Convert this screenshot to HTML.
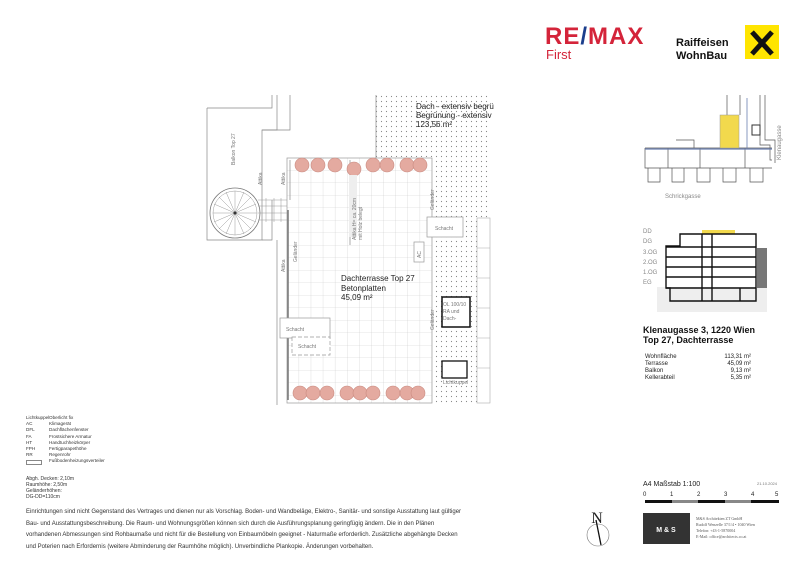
<!DOCTYPE html>
<html><head><meta charset="utf-8"><style>
html,body{margin:0;padding:0;background:#fff;}
body{width:800px;height:565px;overflow:hidden;position:relative;font-family:"Liberation Sans",sans-serif;}
.t{position:absolute;color:#333;white-space:nowrap;}
</style></head><body>
<svg width="800" height="565" style="position:absolute;left:0;top:0" xmlns="http://www.w3.org/2000/svg" font-family="Liberation Sans, sans-serif">
<defs>
<pattern id="dots" width="5" height="5" patternUnits="userSpaceOnUse"><circle cx="1.5" cy="1.5" r="0.6" fill="#888"/></pattern>
<pattern id="grid" x="287" y="158" width="12.1" height="12.5" patternUnits="userSpaceOnUse"><path d="M12.1 0V12.5M0 12.5H12.1" stroke="#ccc" stroke-width="0.6" fill="none"/></pattern>
</defs>
<path d="M376 95H490V405H432V157H376Z" fill="url(#dots)"/>
<rect x="287" y="158" width="145" height="245" fill="url(#grid)" stroke="#999" stroke-width="0.7"/>
<g stroke="#888" stroke-width="0.7" fill="none">
<path d="M207 108H272V95"/><path d="M207 108V240H262V130H277V95"/>
<path d="M262 130H290V95"/>
<path d="M272 200V240H262"/>
<path d="M290 200V160"/>
<path d="M288 210V400" stroke="#777" stroke-width="1.5"/>
<path d="M277 240V405"/>
<path d="M350 160V245"/>
<path d="M376 95V158"/>
</g>
<circle cx="235" cy="213" r="25" fill="none" stroke="#777" stroke-width="0.8"/>
<circle cx="235" cy="213" r="22" fill="none" stroke="#999" stroke-width="0.5"/>
<g stroke="#999" stroke-width="0.5">
<path d="M235 191V235M213 213H257M219 197L251 229M251 197L219 229M226 192L244 234M244 192L226 234M214 204L256 222M256 204L214 222"/>
<path d="M258 200H287M258 206H287M258 213H287M258 220H287M266 198V222M274 198V222M281 198V222"/>
</g>
<circle cx="235" cy="213" r="1.5" fill="#333"/>
<g fill="#e4aaa0" stroke="#c98a80" stroke-width="0.6">
<circle cx="302" cy="165" r="7"/><circle cx="318" cy="165" r="7"/><circle cx="335" cy="165" r="7"/><circle cx="354" cy="169" r="7"/><circle cx="373" cy="165" r="7"/><circle cx="387" cy="165" r="7"/><circle cx="407" cy="165" r="7"/><circle cx="420" cy="165" r="7"/>
<circle cx="300" cy="393" r="7"/><circle cx="313" cy="393" r="7"/><circle cx="327" cy="393" r="7"/><circle cx="347" cy="393" r="7"/><circle cx="360" cy="393" r="7"/><circle cx="373" cy="393" r="7"/><circle cx="393" cy="393" r="7"/><circle cx="407" cy="393" r="7"/><circle cx="418" cy="393" r="7"/>
</g>
<rect x="349" y="175" width="8" height="62" fill="#eee" stroke="none"/>
<g stroke="#aaa" stroke-width="0.6" fill="#fff">
<rect x="477" y="218" width="13" height="185"/>
<path d="M477 248H490M477 278H490M477 308H490M477 338H490M477 368H490"/>
</g>
<g fill="#fff" stroke="#999" stroke-width="0.7">
<rect x="427" y="217" width="36" height="20"/>
<rect x="414" y="242" width="10" height="20"/>
<rect x="280" y="318" width="50" height="20"/>
<rect x="292" y="337" width="38" height="18" stroke-dasharray="4,2"/>
</g>
<rect x="442" y="297" width="28" height="30" fill="#fff" stroke="#111" stroke-width="1.5"/>
<rect x="442" y="361" width="25" height="17" fill="#fff" stroke="#111" stroke-width="1.3"/>
<g font-size="5" fill="#777">
<text x="435" y="230">Schacht</text><text x="286" y="331">Schacht</text><text x="298" y="348">Schacht</text>
<text x="443" y="306">OL 100/10</text><text x="443" y="313">RA und</text><text x="443" y="320">Dach-</text>
<text x="443" y="384">Lichtkuppel</text>
<text transform="translate(421,258) rotate(-90)">AC</text>
<text transform="translate(262,185) rotate(-90)">Attika</text>
<text transform="translate(285,185) rotate(-90)">Attika</text>
<text transform="translate(285,272) rotate(-90)">Attika</text>
<text transform="translate(297,262) rotate(-90)">Geländer</text>
<text transform="translate(434,210) rotate(-90)">Geländer</text>
<text transform="translate(434,330) rotate(-90)">Geländer</text>
<text transform="translate(356,240) rotate(-90)">Attika H= ca. 20cm</text>
<text transform="translate(362,240) rotate(-90)">mit Holz belegt</text>
<text transform="translate(235,165) rotate(-90)">Balkon Top 27</text>
</g>
<g font-size="8" fill="#222">
<text x="341" y="281">Dachterrasse  Top 27</text>
<text x="341" y="291">Betonplatten</text>
<text x="341" y="300">45,09 m²</text>
<text x="416" y="109">Dach - extensiv begrü</text>
<text x="416" y="118">Begrünung - extensiv</text>
<text x="416" y="127">123,56 m²</text>
</g>
<!-- key plan -->
<g stroke="#555" stroke-width="0.7" fill="none">
<path d="M645 148H772"/><path d="M645 148V168H772"/>
<path d="M648 168V182H660V168M672 168V182H684V168M697 168V182H710V168M723 168V182H736V168M750 168V182H763V168"/>
<path d="M727 95V115M740 95V115M760 95V145H770V160H772"/><path d="M765 95V140H775V163"/>
<path d="M676 140H694V148"/>
<path d="M668 148V168M700 148V168M745 148V168"/>
</g>
<path d="M645 149H772" stroke="#6a7fb0" stroke-width="1.2"/>
<path d="M747 98V148" stroke="#6a7fb0" stroke-width="0.8"/>
<rect x="720" y="115" width="19" height="33" fill="#f2d94d" stroke="#999" stroke-width="0.5"/>
<rect x="752" y="125" width="8" height="10" fill="#fff" stroke="#333"/>
<text x="665" y="198" font-size="6" fill="#888">Schrickgasse</text>
<text font-size="6" fill="#888" transform="translate(781,160) rotate(-90)">Klenaugasse</text>
<!-- section -->
<rect x="657" y="287" width="110" height="25" fill="#eee"/>
<rect x="757" y="248" width="10" height="40" fill="#777"/>
<rect x="702" y="230" width="33" height="4" fill="#f2d94d"/>
<g stroke="#111" stroke-width="1.4" fill="none">
<path d="M680 234H756V301H670V288H666V246H680Z"/>
<path d="M666 247H756M666 257H756M666 267H756M666 277H756M666 288H756"/>
<path d="M702 234V301M712 234V301M740 288V301"/>
</g>
<g font-size="6" fill="#888">
<text x="643" y="233">DD</text><text x="643" y="243">DG</text><text x="643" y="254">3.OG</text><text x="643" y="264">2.OG</text><text x="643" y="274">1.OG</text><text x="643" y="284">EG</text>
</g>
<text x="643" y="333" font-size="9" font-weight="bold" fill="#111">Klenaugasse 3, 1220 Wien</text>
<text x="643" y="343" font-size="9" font-weight="bold" fill="#111">Top 27, Dachterrasse</text>
<g font-size="6" fill="#222">
<text x="645" y="358">Wohnfläche</text><text x="645" y="365">Terrasse</text><text x="645" y="372">Balkon</text><text x="645" y="379">Kellerabteil</text>
<text x="751" y="358" text-anchor="end">113,31 m²</text><text x="751" y="365" text-anchor="end">45,09 m²</text><text x="751" y="372" text-anchor="end">9,13 m²</text><text x="751" y="379" text-anchor="end">5,35 m²</text>
</g>
<text x="643" y="486" font-size="7" fill="#222">A4 Maßstab 1:100</text>
<text x="777" y="485" font-size="4" fill="#777" text-anchor="end">21.10.2024</text>
<g font-size="6" fill="#222"><text x="643" y="496">0</text><text x="670" y="496">1</text><text x="697" y="496">2</text><text x="724" y="496">3</text><text x="751" y="496">4</text><text x="775" y="496">5</text></g>
<rect x="645" y="500" width="134" height="3" fill="#111"/>
<rect x="672" y="500" width="26" height="3" fill="#888"/><rect x="725" y="500" width="26" height="3" fill="#888"/>
<rect x="643" y="513" width="47" height="31" fill="#333"/>
<text x="666" y="532" font-size="7" font-weight="bold" fill="#fff" text-anchor="middle">M &amp; S</text>
<g font-family="Liberation Serif, serif" font-size="4" fill="#555"><text x="696" y="520">M&amp;S Architekten ZT GmbH</text><text x="696" y="526">Rudolf Wenzelle 37/1/4 • 1040 Wien</text><text x="696" y="532">Telefon: +43-1-5870004</text><text x="696" y="538">E-Mail: office@architects.co.at</text></g>
<text x="597" y="523" font-family="Liberation Serif, serif" font-size="16" fill="#222" text-anchor="middle">N</text>
<circle cx="598" cy="535" r="11" fill="none" stroke="#777" stroke-width="0.6"/>
<path d="M596 520L601 545" stroke="#111" stroke-width="1.3"/>
<text x="545" y="44" font-size="24" font-weight="bold" fill="#d4243a" letter-spacing="1">RE<tspan fill="#1b3e8c">/</tspan>MAX</text>
<text x="546" y="59" font-size="13" fill="#d4243a">First</text>
<text x="676" y="46" font-size="11" font-weight="bold" fill="#111">Raiffeisen</text>
<text x="676" y="59" font-size="11" font-weight="bold" fill="#111">WohnBau</text>
<rect x="745" y="25" width="34" height="34" fill="#ffe500"/>
<path d="M752 32L772 54M772 32L752 54" stroke="#111" stroke-width="5"/>
</svg>
<div class="t" style="left:26px;top:415px;font-size:4.6px;line-height:6.2px">Lichtkuppel<br>AC<br>DFL<br>FA<br>HT<br>FPH<br>RR</div>
<div class="t" style="left:49px;top:415px;font-size:4.6px;line-height:6.2px">Oberlicht fix<br>Klimagerät<br>Dachflächenfenster<br>Frostsichere Armatur<br>Handtuchheizkörper<br>Fertigparapethöhe<br>Regenrohr<br>Fußbodenheizungsverteiler</div>
<div class="t" style="left:26px;top:460px;width:14px;height:3px;border:0.5px solid #888"></div>
<div class="t" style="left:26px;top:476px;font-size:5px;line-height:6px">Abgh. Decken: 2,10m<br>Raumhöhe: 2,50m<br>Geländerhöhen:<br>DG-DD=110cm</div>
<div class="t" style="left:26px;top:507px;font-size:6px;line-height:11.5px">Einrichtungen sind nicht Gegenstand des Vertrages und dienen nur als Vorschlag. Boden- und Wandbeläge, Elektro-, Sanitär- und sonstige Ausstattung laut gültiger<br>Bau- und Ausstattungsbeschreibung. Die Raum- und Wohnungsgrößen können sich durch die Ausführungsplanung geringfügig ändern. Die in den Plänen<br>vorhandenen Abmessungen sind Rohbaumaße und nicht für die Bestellung von Einbaumöbeln geeignet - Naturmaße erforderlich. Zusätzliche abgehängte Decken<br>und Poterien nach Erfordernis (weitere Abminderung der Raumhöhe möglich). Unverbindliche Plankopie. Änderungen vorbehalten.</div>
</body></html>
